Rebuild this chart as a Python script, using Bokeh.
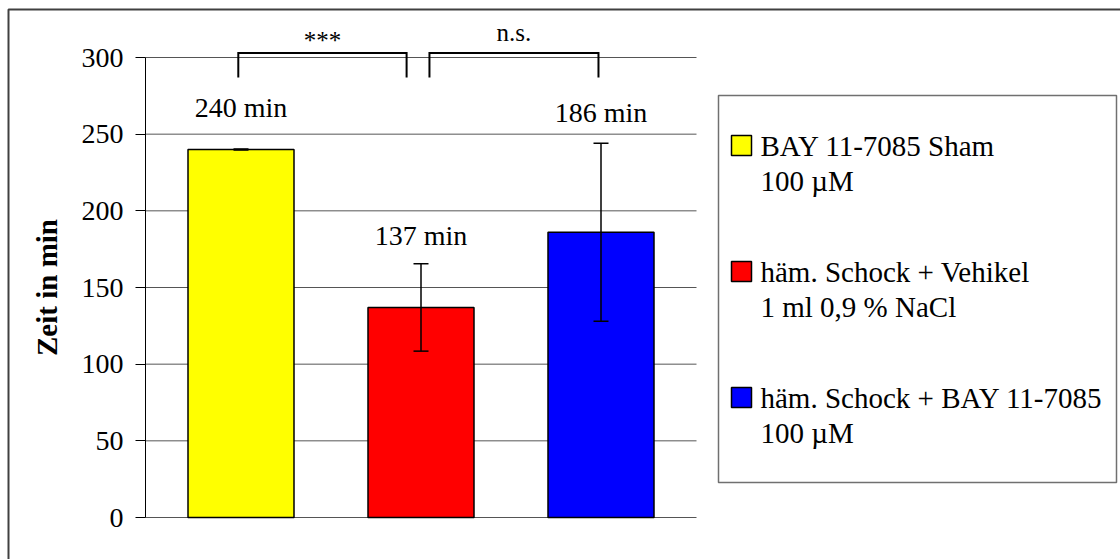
from bokeh.plotting import figure
from bokeh.models import Range1d, LinearAxis, FixedTicker, ColumnDataSource, Whisker, TeeHead
from bokeh.core.properties import value
from bokeh.embed import file_html
from bokeh.resources import INLINE

# ---- data ----
groups = ["BAY 11-7085 Sham", "häm. Schock + Vehikel", "häm. Schock + BAY 11-7085"]
group_dose = ["100 µM", "1 ml 0,9 % NaCl", "100 µM"]
time_min = [240, 137, 186]
error_min = [0.4, 28.5, 58]
bar_colors = ["#FFFF00", "#FF0000", "#0000FF"]
y_ticks = [0, 50, 100, 150, 200, 250, 300]
comparison_labels = ["***", "n.s."]

# ---- layout (canvas pixels) ----
W, H = 1120, 559
ZERO_PX = 517.0
PX_PER_MIN = 460.0 / 300.0
FIRST_BAR_PX = 240.5
BAR_STEP_PX = 180.0
AXIS_PX = 145.0
GRID_END_PX = 696.0
BAR_WIDTH = 106.0 / BAR_STEP_PX
SERIF = "Liberation Serif"


def x_of(px):
    return (px - FIRST_BAR_PX) / BAR_STEP_PX


def y_of(py):
    return (ZERO_PX - py) / PX_PER_MIN


label_gap = [27, 18.5, 20]                      # value label above the error bar, in minutes
bracket_spans = [(-0.015, 0.92), (1.047, 1.986)]  # in category units
bracket_top, bracket_foot = y_of(52.5), y_of(77)
sig_label_y = [y_of(40), y_of(32)]

p = figure(width=W, height=H, output_backend="svg", toolbar_location=None,
           x_range=Range1d(x_of(0), x_of(W)), y_range=Range1d(y_of(H), y_of(0)),
           x_axis_type=None, y_axis_type=None, min_border=0)
p.min_border_left = p.min_border_right = p.min_border_top = p.min_border_bottom = 0
p.outline_line_color = None
p.background_fill_color = "white"
p.border_fill_color = "white"
p.extra_x_ranges = {"px": Range1d(0, W)}
p.extra_y_ranges = {"px": Range1d(H, 0)}

xs = list(range(len(groups)))

# outer chart border (top and left edges)
p.line(x=[8, 8, W], y=[H, 9, 9], line_color="#404040", line_width=2,
       x_range_name="px", y_range_name="px")

# horizontal gridlines, from the value axis to the plot-area edge
p.segment(x0=[x_of(AXIS_PX)] * len(y_ticks), y0=y_ticks,
          x1=[x_of(GRID_END_PX)] * len(y_ticks), y1=y_ticks,
          line_color="#555555", line_width=1)

# bars
p.vbar(x=xs, top=time_min, bottom=0, width=BAR_WIDTH, fill_color=bar_colors,
       line_color="black", line_width=1.5)

# error bars
err_src = ColumnDataSource(data=dict(
    x=xs,
    upper=[t + e for t, e in zip(time_min, error_min)],
    lower=[t - e for t, e in zip(time_min, error_min)],
))
whisk = Whisker(source=err_src, base="x", upper="upper", lower="lower", dimension="height",
                line_color="black", line_width=1.5, level="annotation",
                upper_head=TeeHead(size=15, line_color="black", line_width=1.5),
                lower_head=TeeHead(size=15, line_color="black", line_width=1.5))
p.add_layout(whisk)

# value labels
p.text(x=xs, y=[t + e + g for t, e, g in zip(time_min, error_min, label_gap)],
       text=[f"{t} min" for t in time_min], text_align="center", text_baseline="middle",
       text_font=value(SERIF), text_font_size="28px", text_color="black")

# significance brackets
p.multi_line(xs=[[a, a, b, b] for a, b in bracket_spans],
             ys=[[bracket_foot, bracket_top, bracket_top, bracket_foot]] * len(bracket_spans),
             line_color="black", line_width=2, line_join="miter")
p.text(x=[(a + b) / 2 for a, b in bracket_spans], y=sig_label_y, text=comparison_labels,
       text_align="center", text_baseline="middle",
       text_font=value(SERIF), text_font_size="25px", text_color="black")

# value axis
yaxis = LinearAxis(fixed_location=x_of(AXIS_PX), bounds=(0, 300),
                   ticker=FixedTicker(ticks=y_ticks))
yaxis.axis_label = "Zeit in min"
yaxis.axis_label_text_font = SERIF
yaxis.axis_label_text_font_style = "bold"
yaxis.axis_label_text_font_size = "29px"
yaxis.axis_label_text_color = "black"
yaxis.axis_label_standoff = 16
yaxis.major_label_text_font = SERIF
yaxis.major_label_text_font_size = "28px"
yaxis.major_label_text_color = "black"
yaxis.major_label_standoff = 12
yaxis.major_tick_out = 10
yaxis.major_tick_in = 0
yaxis.minor_tick_out = 0
yaxis.minor_tick_in = 0
yaxis.axis_line_color = "black"
yaxis.major_tick_line_color = "black"
p.add_layout(yaxis, "left")

# legend box
LEG_L, LEG_R, LEG_T, LEG_B = 718, 1116, 95, 482
p.quad(left=[LEG_L], right=[LEG_R], top=[LEG_T], bottom=[LEG_B], fill_color="white",
       line_color="#707070", line_width=1.5, x_range_name="px", y_range_name="px")
first_mid, item_step, line_step = 145, 126, 35
mids = [first_mid + i * item_step for i in range(len(groups))]
p.quad(left=[731] * len(groups), right=[751] * len(groups),
       top=[m - 10 for m in mids], bottom=[m + 10 for m in mids], fill_color=bar_colors,
       line_color="black", line_width=1.5, x_range_name="px", y_range_name="px")
p.text(x=[760] * len(groups), y=mids, text=groups, text_baseline="middle",
       text_font=value(SERIF), text_font_size="29px", text_color="black",
       x_range_name="px", y_range_name="px")
p.text(x=[760] * len(groups), y=[m + line_step for m in mids], text=group_dose,
       text_baseline="middle", text_font=value(SERIF), text_font_size="29px",
       text_color="black", x_range_name="px", y_range_name="px")

with open("out.html", "w", encoding="utf-8") as f:
    f.write(file_html(p, INLINE))
